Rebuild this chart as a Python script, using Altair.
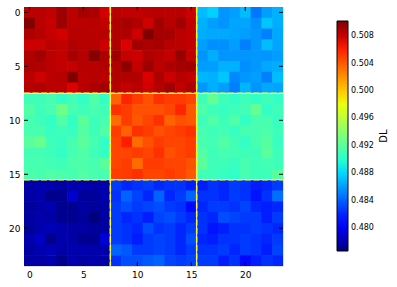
import altair as alt
import pandas as pd

# ---- cell values (DL), rows 0..23 top to bottom, cols 0..23 ----
row00 = [0.5085,0.5085,0.5083,0.5094,0.5085,0.5091,0.5089,0.5078, 0.5085,0.5083,0.5083,0.5085,0.5086,0.5085,0.5086,0.5080, 0.4871,0.4878,0.4858,0.4861,0.4871,0.4848,0.4861,0.4867]
row01 = [0.5101,0.5085,0.5082,0.5094,0.5085,0.5085,0.5086,0.5083, 0.5088,0.5091,0.5088,0.5079,0.5092,0.5086,0.5092,0.5083, 0.4867,0.4861,0.4858,0.4863,0.4863,0.4856,0.4874,0.4866]
row02 = [0.5089,0.5086,0.5082,0.5078,0.5086,0.5086,0.5085,0.5086, 0.5088,0.5089,0.5079,0.5102,0.5091,0.5091,0.5085,0.5083, 0.4866,0.4864,0.4864,0.4863,0.4861,0.4858,0.4851,0.4864]
row03 = [0.5080,0.5080,0.5085,0.5083,0.5088,0.5086,0.5086,0.5080, 0.5088,0.5075,0.5092,0.5089,0.5091,0.5086,0.5085,0.5083, 0.4861,0.4856,0.4856,0.4861,0.4851,0.4858,0.4871,0.4863]
row04 = [0.5088,0.5092,0.5085,0.5083,0.5091,0.5086,0.5100,0.5089, 0.5092,0.5082,0.5080,0.5088,0.5086,0.5083,0.5095,0.5083, 0.4858,0.4866,0.4858,0.4858,0.4858,0.4859,0.4858,0.4861]
row05 = [0.5089,0.5088,0.5085,0.5083,0.5082,0.5086,0.5085,0.5088, 0.5088,0.5098,0.5083,0.5094,0.5085,0.5089,0.5091,0.5092, 0.4861,0.4861,0.4867,0.4867,0.4856,0.4859,0.4864,0.4866]
row06 = [0.5085,0.5079,0.5085,0.5086,0.5102,0.5085,0.5086,0.5085, 0.5088,0.5088,0.5088,0.5076,0.5089,0.5080,0.5086,0.5083, 0.4869,0.4867,0.4874,0.4854,0.4859,0.4861,0.4851,0.4871]
row07 = [0.5086,0.5088,0.5085,0.5085,0.5075,0.5086,0.5089,0.5092, 0.5086,0.5082,0.5085,0.5079,0.5086,0.5092,0.5083,0.5089, 0.4859,0.4866,0.4861,0.4851,0.4869,0.4858,0.4864,0.4863]
row08 = [0.4909,0.4909,0.4913,0.4904,0.4911,0.4904,0.4917,0.4904, 0.5037,0.5059,0.5051,0.5044,0.5055,0.5051,0.5051,0.5048, 0.4909,0.4925,0.4909,0.4904,0.4909,0.4904,0.4909,0.4904]
row09 = [0.4917,0.4909,0.4913,0.4929,0.4913,0.4909,0.4913,0.4909, 0.5055,0.5051,0.5044,0.5044,0.5044,0.5048,0.5059,0.5041, 0.4915,0.4909,0.4906,0.4909,0.4911,0.4925,0.4904,0.4909]
row10 = [0.4913,0.4909,0.4904,0.4917,0.4904,0.4921,0.4909,0.4913, 0.5034,0.5051,0.5041,0.5048,0.5055,0.5037,0.5044,0.5041, 0.4909,0.4917,0.4909,0.4917,0.4904,0.4913,0.4913,0.4906]
row11 = [0.4913,0.4913,0.4906,0.4909,0.4906,0.4919,0.4909,0.4917, 0.5051,0.5037,0.5055,0.5051,0.5044,0.5048,0.5051,0.5055, 0.4913,0.4909,0.4911,0.4906,0.4913,0.4913,0.4915,0.4909]
row12 = [0.4921,0.4927,0.4909,0.4906,0.4913,0.4921,0.4913,0.4904, 0.5048,0.5062,0.5034,0.5044,0.5051,0.5048,0.5048,0.5051, 0.4913,0.4911,0.4917,0.4911,0.4904,0.4913,0.4919,0.4906]
row13 = [0.4911,0.4911,0.4909,0.4904,0.4913,0.4917,0.4909,0.4904, 0.5048,0.5048,0.5051,0.5048,0.5055,0.5044,0.5048,0.5051, 0.4917,0.4909,0.4913,0.4911,0.4909,0.4909,0.4921,0.4909]
row14 = [0.4913,0.4913,0.4911,0.4909,0.4915,0.4915,0.4913,0.4921, 0.5048,0.5051,0.5034,0.5051,0.5051,0.5048,0.5048,0.5044, 0.4921,0.4909,0.4909,0.4906,0.4913,0.4909,0.4911,0.4909]
row15 = [0.4915,0.4913,0.4917,0.4915,0.4913,0.4917,0.4913,0.4913, 0.5051,0.5051,0.5055,0.5048,0.5048,0.5051,0.5048,0.5041, 0.4911,0.4909,0.4906,0.4904,0.4913,0.4909,0.4909,0.4921]
row16 = [0.4778,0.4781,0.4780,0.4778,0.4780,0.4781,0.4778,0.4780, 0.4828,0.4821,0.4825,0.4828,0.4821,0.4825,0.4825,0.4818, 0.4818,0.4825,0.4821,0.4828,0.4825,0.4818,0.4821,0.4828]
row17 = [0.4778,0.4780,0.4770,0.4772,0.4790,0.4775,0.4775,0.4780, 0.4825,0.4841,0.4831,0.4821,0.4841,0.4821,0.4828,0.4841, 0.4825,0.4825,0.4821,0.4828,0.4825,0.4815,0.4825,0.4845]
row18 = [0.4775,0.4778,0.4781,0.4772,0.4772,0.4777,0.4775,0.4778, 0.4828,0.4834,0.4828,0.4831,0.4834,0.4828,0.4825,0.4811, 0.4821,0.4828,0.4828,0.4825,0.4831,0.4821,0.4818,0.4821]
row19 = [0.4777,0.4780,0.4778,0.4772,0.4772,0.4775,0.4767,0.4777, 0.4828,0.4821,0.4825,0.4818,0.4831,0.4834,0.4828,0.4821, 0.4825,0.4821,0.4834,0.4831,0.4828,0.4828,0.4818,0.4828]
row20 = [0.4775,0.4780,0.4783,0.4780,0.4778,0.4778,0.4775,0.4777, 0.4828,0.4825,0.4821,0.4834,0.4825,0.4828,0.4821,0.4828, 0.4825,0.4815,0.4818,0.4825,0.4825,0.4828,0.4825,0.4821]
row21 = [0.4780,0.4787,0.4771,0.4780,0.4778,0.4772,0.4772,0.4793, 0.4828,0.4825,0.4818,0.4828,0.4831,0.4828,0.4821,0.4834, 0.4821,0.4818,0.4825,0.4825,0.4828,0.4825,0.4821,0.4828]
row22 = [0.4777,0.4781,0.4783,0.4778,0.4780,0.4781,0.4780,0.4780, 0.4841,0.4838,0.4828,0.4828,0.4831,0.4828,0.4821,0.4828, 0.4825,0.4825,0.4828,0.4821,0.4828,0.4825,0.4818,0.4831]
row23 = [0.4778,0.4778,0.4780,0.4771,0.4780,0.4778,0.4780,0.4778, 0.4825,0.4834,0.4834,0.4838,0.4841,0.4831,0.4828,0.4831, 0.4828,0.4828,0.4818,0.4825,0.4811,0.4818,0.4825,0.4821]

rows = [row00, row01, row02, row03, row04, row05, row06, row07,
        row08, row09, row10, row11, row12, row13, row14, row15,
        row16, row17, row18, row19, row20, row21, row22, row23]

axis_ticks = [0, 5, 10, 15, 20]
block_edges = [7.5, 15.5]
colorbar_ticks = [0.480, 0.484, 0.488, 0.492, 0.496, 0.500, 0.504, 0.508]
colorbar_title = "DL"

# ---- long-form table ----
records = []
for r, vals in enumerate(rows):
    for c, v in enumerate(vals):
        records.append({"row": r, "col": c, "DL": v})
df = pd.DataFrame(records)
vmin, vmax = df["DL"].min(), df["DL"].max()

# matplotlib "jet" colormap stops (fraction, colour)
jet_frac = [0.0, 0.11, 0.125, 0.34, 0.35, 0.375, 0.64, 0.65, 0.66, 0.89, 0.91, 1.0]
jet_col = ["#00007f", "#0000ff", "#0000ff", "#00dbff", "#00e5f7", "#15ffe2",
           "#eeff08", "#f7f500", "#ffec00", "#ff1300", "#e80000", "#800000"]
jet_dom = [vmin + f * (vmax - vmin) for f in jet_frac]
jet_scale = alt.Scale(domain=jet_dom, range=jet_col, interpolate="rgb")

W = H = 259
FONT = "DejaVu Sans"

xscale = alt.Scale(domain=[-0.5, 23.5], nice=False, zero=False)
yscale = alt.Scale(domain=[-0.5, 23.5], nice=False, zero=False, reverse=True)

# cells overlap their neighbour by a hair so no anti-aliasing seams show
heat = alt.Chart(df).transform_calculate(
    x0="datum.col - 0.5", x1="datum.col + 0.56",
    y0="datum.row - 0.5", y1="datum.row + 0.56",
).mark_rect(strokeWidth=0, clip=True).encode(
    x=alt.X("x0:Q", scale=xscale,
            axis=alt.Axis(values=axis_ticks, title=None, ticks=False, domain=False,
                          grid=False, labelFontSize=9, labelFont=FONT, labelColor="black",
                          labelPadding=4)),
    x2="x1:Q",
    y=alt.Y("y0:Q", scale=yscale,
            axis=alt.Axis(values=axis_ticks, title=None, ticks=False, domain=False,
                          grid=False, labelFontSize=9, labelFont=FONT, labelColor="black",
                          labelPadding=4)),
    y2="y1:Q",
    color=alt.Color("DL:Q", scale=jet_scale,
                    legend=alt.Legend(title=None, orient="none", legendX=313, legendY=14,
                                      direction="vertical", gradientLength=230,
                                      gradientThickness=11, gradientStrokeColor="black",
                                      gradientStrokeWidth=1, values=colorbar_ticks,
                                      format=".3f", labelFontSize=8, labelFont=FONT,
                                      labelColor="black", labelOffset=3, labelOverlap=False,
                                      padding=0)),
)

edges = pd.DataFrame({"edge": block_edges})
v_white = alt.Chart(edges).mark_rule(color="white", strokeWidth=1).encode(
    x=alt.X("edge:Q", scale=xscale), y=alt.value(0), y2=alt.value(H))
v_yellow = alt.Chart(edges).mark_rule(color="#ffff00", strokeWidth=1.5, strokeDash=[6, 2.5]).encode(
    x=alt.X("edge:Q", scale=xscale), y=alt.value(0), y2=alt.value(H))
h_white = alt.Chart(edges).mark_rule(color="white", strokeWidth=1).encode(
    y=alt.Y("edge:Q", scale=yscale), x=alt.value(0), x2=alt.value(W))
h_yellow = alt.Chart(edges).mark_rule(color="#ffff00", strokeWidth=1.5, strokeDash=[6, 2.5]).encode(
    y=alt.Y("edge:Q", scale=yscale), x=alt.value(0), x2=alt.value(W))

ticks = pd.DataFrame({"t": axis_ticks})
tick_style = dict(color="black", strokeWidth=1)
t_bottom = alt.Chart(ticks).mark_rule(**tick_style).encode(
    x=alt.X("t:Q", scale=xscale), y=alt.value(H), y2=alt.value(H - 4))
t_top = alt.Chart(ticks).mark_rule(**tick_style).encode(
    x=alt.X("t:Q", scale=xscale), y=alt.value(0), y2=alt.value(4))
t_left = alt.Chart(ticks).mark_rule(**tick_style).encode(
    y=alt.Y("t:Q", scale=yscale), x=alt.value(0), x2=alt.value(4))
t_right = alt.Chart(ticks).mark_rule(**tick_style).encode(
    y=alt.Y("t:Q", scale=yscale), x=alt.value(W), x2=alt.value(W - 4))

label = alt.Chart(pd.DataFrame({"label": [colorbar_title]})).mark_text(
    angle=270, fontSize=10, font=FONT, color="black", align="center", baseline="middle"
).encode(text="label:N", x=alt.value(360), y=alt.value(129))

chart = alt.layer(
    heat, v_white, v_yellow, h_white, h_yellow, t_bottom, t_top, t_left, t_right, label
).properties(
    width=W, height=H,
    autosize=alt.AutoSizeParams(type="none"),
    padding={"left": 24, "top": 7, "right": 114, "bottom": 21},
).configure_view(
    stroke="black", strokeWidth=1
).configure(background="white")

chart.save("out.html", embed_options={"renderer": "svg", "actions": False})
